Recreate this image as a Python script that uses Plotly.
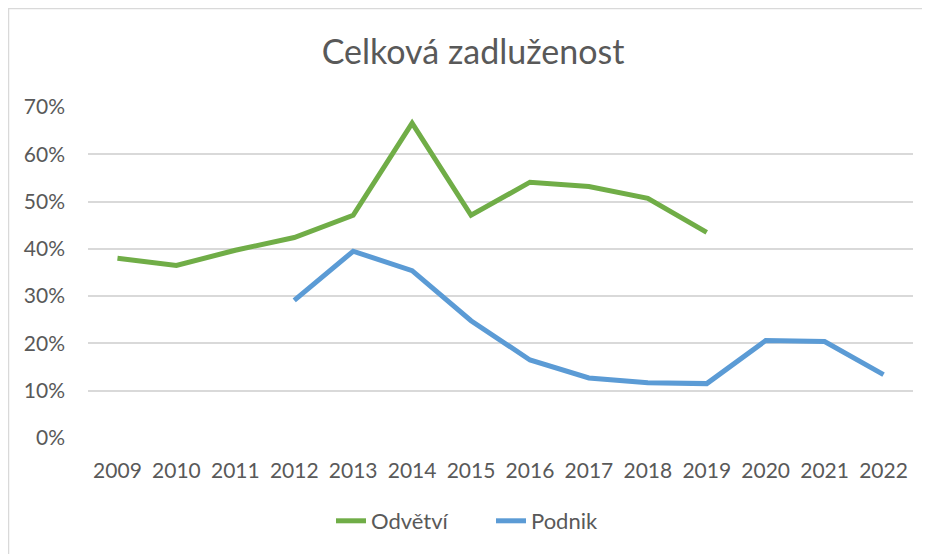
import plotly.graph_objects as go

years = [str(y) for y in range(2009, 2023)]
odvetvi = [0.380, 0.365, 0.397, 0.424, 0.471, 0.666, 0.471, 0.541, 0.532, 0.507, 0.435,
           None, None, None]
podnik = [None, None, None, 0.291, 0.395, 0.354, 0.248, 0.165, 0.127, 0.117, 0.115,
          0.206, 0.204, 0.134]
yticks = [0, 0.1, 0.2, 0.3, 0.4, 0.5, 0.6, 0.7]

FONT = "Lato"
GREY = "#595959"

# plot area in figure pixels: left 80, right 905, top 99, bottom 430
fig = go.Figure()
fig.add_trace(go.Scatter(x=years, y=odvetvi, name="Odvětví", mode="lines",
                         line=dict(color="#70AD47", width=5)))
fig.add_trace(go.Scatter(x=years, y=podnik, name="Podnik", mode="lines",
                         line=dict(color="#5B9BD5", width=5)))

# chart frame round the whole figure
fig.add_shape(type="rect", xref="paper", yref="paper",
              x0=(0.5 - 80) / 825, x1=(929.5 - 80) / 825,
              y0=(430 - 553.5) / 331, y1=(430 - 0.5) / 331,
              line=dict(color="#d9d9d9", width=1.5), layer="below")

fig.update_layout(
    width=930, height=554,
    margin=dict(l=80, r=25, t=99, b=124, autoexpand=False),
    paper_bgcolor="white", plot_bgcolor="white",
    font=dict(family=FONT, color=GREY, size=21),
    title=dict(text="Celková zadluženost", x=0.5, xanchor="center",
               y=1 - 44 / 554, yanchor="middle",
               font=dict(size=34, color=GREY, family=FONT)),
    showlegend=True,
    legend=dict(orientation="h", x=(323 - 80) / 825, xanchor="left",
                y=(430 - 513) / 331, yanchor="middle",
                font=dict(size=22, color=GREY), entrywidth=115),
    xaxis=dict(type="category", range=[-0.5, 13.5], showgrid=False,
               zeroline=False, showline=False, ticks="",
               ticklabelstandoff=18, automargin=False,
               tickfont=dict(size=21, color=GREY)),
    yaxis=dict(range=[0, 0.7], tickvals=yticks, tickformat=".0%",
               showgrid=True, gridcolor="#d9d9d9", gridwidth=1.5,
               zeroline=False, showline=False, ticks="",
               ticklabelstandoff=22, automargin=False,
               tickfont=dict(size=21, color=GREY)),
)

fig.write_html("out.html")
